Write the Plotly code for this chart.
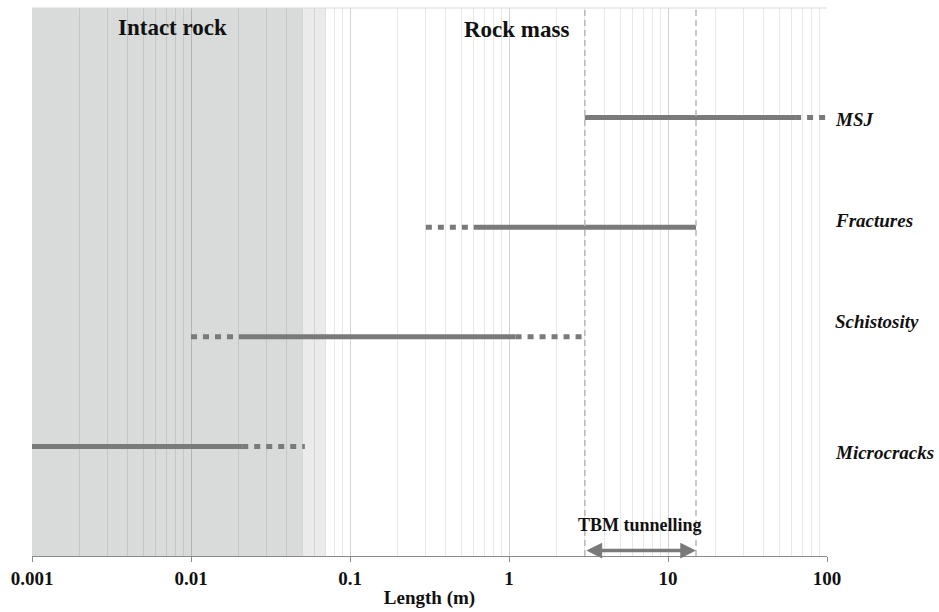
import math
import plotly.graph_objects as go

# Discontinuity types and their observed length ranges (m)
categories = ["Microcracks", "Schistosity", "Fractures", "MSJ"]
row_pos = [1, 2, 3, 4]
solid_start = [0.001, 0.02, 0.6, 3]
solid_end = [0.021, 1.1, 15, 63]
extent_low = [0.001, 0.01, 0.3, 3]
extent_high = [0.052, 3, 15, 100]

# vertical placement of the row captions beside the plot
label_pos = [0.94, 2.14, 3.06, 3.98]

# Scale bands and the TBM tunnelling window (m)
intact_band = [0.001, 0.05]
transition_band = [0.05, 0.07]
tbm_range = [3, 15]

tick_vals = [0.001, 0.01, 0.1, 1, 10, 100]
tick_text = ["0.001", "0.01", "0.1", "1", "10", "100"]

LINE = "#7a7a7a"
SERIF = "Liberation Serif"
INK = "#111111"
GRID = "rgba(0,0,0,0.09)"

fig = go.Figure()

# dotted (uncertain) extensions
dx, dy = [], []
for lo, s0, s1, hi, y in zip(extent_low, solid_start, solid_end, extent_high, row_pos):
    if lo < s0:
        dx += [lo, s0, None]
        dy += [y, y, None]
    if hi > s1:
        dx += [s1, hi, None]
        dy += [y, y, None]
fig.add_trace(go.Scatter(x=dx, y=dy, mode="lines",
                         line=dict(color=LINE, width=5, dash="6px,6px"),
                         hoverinfo="skip", showlegend=False))

# solid (observed) ranges
sx, sy = [], []
for s0, s1, y in zip(solid_start, solid_end, row_pos):
    sx += [s0, s1, None]
    sy += [y, y, None]
fig.add_trace(go.Scatter(x=sx, y=sy, mode="lines",
                         line=dict(color=LINE, width=5),
                         hoverinfo="skip", showlegend=False))

# shaded scale bands
fig.add_shape(type="rect", xref="x", yref="paper", x0=intact_band[0], x1=intact_band[1],
              y0=0, y1=1, fillcolor="#d9dbdb", line_width=0, layer="below")
fig.add_shape(type="rect", xref="x", yref="paper", x0=transition_band[0], x1=transition_band[1],
              y0=0, y1=1, fillcolor="#ebebeb", line_width=0, layer="below")

# TBM window boundaries
for xv in tbm_range:
    fig.add_shape(type="line", xref="x", yref="paper", x0=xv, x1=xv, y0=0, y1=1,
                  line=dict(color="#b8b8b8", width=1.5, dash="6px,4px"))

# top frame line
fig.add_shape(type="line", xref="paper", yref="paper", x0=0, x1=1, y0=1, y1=1,
              line=dict(color="#d9d9d9", width=1))

# row captions
for name, yp in zip(categories, label_pos):
    fig.add_annotation(x=1, y=yp, xref="paper", yref="y", xanchor="left", xshift=6,
                       text="<b><i>%s</i></b>" % name, showarrow=False,
                       font=dict(family=SERIF, size=19, color=INK))

# double-headed arrow for the TBM range
fig.add_annotation(x=math.log10(tbm_range[1]), y=0.05, ax=math.log10(tbm_range[0]), ay=0.05,
                   xref="x", yref="y", axref="x", ayref="y", text="",
                   showarrow=True, arrowhead=2, arrowside="end+start",
                   arrowsize=0.9, arrowwidth=3.5, arrowcolor=LINE)
fig.add_annotation(x=math.log10(math.sqrt(tbm_range[0] * tbm_range[1])), y=0.28,
                   xref="x", yref="y", text="<b>TBM tunnelling</b>", showarrow=False,
                   font=dict(family=SERIF, size=18, color=INK))

# zone titles
fig.add_annotation(x=0.177, y=1, xref="paper", yref="paper", xanchor="center", yanchor="top",
                   yshift=-5, text="<b>Intact rock</b>", showarrow=False,
                   font=dict(family=SERIF, size=23, color=INK))
fig.add_annotation(x=0.609, y=1, xref="paper", yref="paper", xanchor="center", yanchor="top",
                   yshift=-7, text="<b>Rock mass</b>", showarrow=False,
                   font=dict(family=SERIF, size=23, color=INK))

fig.update_layout(
    width=939, height=612,
    margin=dict(l=32, r=112, t=8, b=56),
    paper_bgcolor="white", plot_bgcolor="white",
    showlegend=False,
    xaxis=dict(
        type="log", range=[-3, 2],
        tickvals=tick_vals, ticktext=["<b>%s</b>" % t for t in tick_text],
        tickfont=dict(family=SERIF, size=19, color=INK),
        ticks="outside", ticklen=5, tickcolor="#8a8a8a",
        showline=True, linecolor="#8a8a8a", linewidth=1,
        showgrid=True, gridcolor=GRID, gridwidth=1,
        minor=dict(dtick="D1", showgrid=True, gridcolor=GRID, gridwidth=1),
        zeroline=False,
        title=dict(text="<b>Length (m)</b>", standoff=2,
                   font=dict(family=SERIF, size=19, color=INK)),
    ),
    yaxis=dict(
        range=[0, 5], showticklabels=False,
        ticks="", showgrid=False, zeroline=False, showline=False,
    ),
)

fig.write_html("out.html")
